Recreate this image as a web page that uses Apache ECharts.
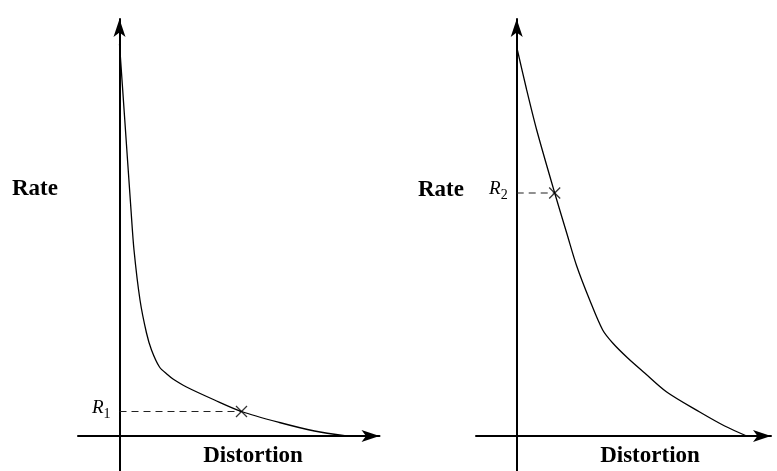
<!DOCTYPE html>
<html>
<head>
<meta charset="utf-8">
<script src="https://cdn.jsdelivr.net/npm/echarts@6/dist/echarts.min.js"></script>
<style>
  html, body { margin: 0; padding: 0; background: #fff; }
  #chart { width: 777px; height: 471px; }
</style>
</head>
<body>
<div id="chart"></div>
<script>
// Left panel: rate-distortion curve with a sharp knee
const leftDistortion = [0, 0.05, 0.115, 0.145, 0.205, 0.27, 0.32, 0.40, 0.485, 0.535, 0.67, 0.95, 1.22, 1.60, 1.95, 2.27];
const leftRate       = [3.92, 3.20, 2.26, 1.86, 1.36, 1.03, 0.86, 0.69, 0.61, 0.57, 0.49, 0.36, 0.245, 0.135, 0.05, 0];
// Operating point on the left curve
const leftPointD = 1.22;
const leftPointR = 0.245;

// Right panel: flatter rate-distortion curve
const rightDistortion = [0, 0.10, 0.20, 0.38, 0.50, 0.60, 0.73, 0.86, 0.96, 1.11, 1.28, 1.50, 1.83, 2.08, 2.30];
const rightRate       = [3.89, 3.46, 3.06, 2.43, 2.03, 1.70, 1.36, 1.06, 0.93, 0.78, 0.63, 0.44, 0.24, 0.10, 0];
// Operating point on the right curve
const rightPointD = 0.38;
const rightPointR = 2.43;

// Text
const yAxisTitle = 'Rate';
const xAxisTitle = 'Distortion';
const leftPointName = ['R', '1'];
const rightPointName = ['R', '2'];

const zip = (xs, ys) => xs.map((x, i) => [x, ys[i]]);

const serif = '"Liberation Serif", "Times New Roman", serif';

const arrowLine = {
  onZero: true,
  symbol: ['none', 'arrow'],
  symbolSize: [9, 18],
  lineStyle: { color: '#000', width: 2 }
};

function bareAxis(gridIndex, min, max) {
  return {
    type: 'value', gridIndex, min, max,
    axisLine: arrowLine,
    axisTick: { show: false },
    axisLabel: { show: false },
    splitLine: { show: false }
  };
}

const nameRich = {
  r: { fontFamily: serif, fontStyle: 'italic', fontSize: 19, color: '#000',
       lineHeight: 19, padding: [0, 0, 4, 0], verticalAlign: 'bottom' },
  s: { fontFamily: serif, fontSize: 14, color: '#000',
       lineHeight: 14, verticalAlign: 'bottom' }
};

function curveSeries(idx, data) {
  return {
    type: 'line', xAxisIndex: idx, yAxisIndex: idx, data,
    showSymbol: false, smooth: 0.3,
    lineStyle: { color: '#000', width: 1.3 },
    silent: true, z: 3
  };
}

function guideSeries(idx, d, r) {
  return {
    type: 'line', xAxisIndex: idx, yAxisIndex: idx,
    data: [[0, r], [d, r]],
    showSymbol: false,
    lineStyle: { color: '#222', width: 1.2, type: [7, 5] },
    silent: true, z: 2
  };
}

function crossSeries(idx, d, r) {
  return {
    type: 'scatter', xAxisIndex: idx, yAxisIndex: idx,
    data: [[d, r]],
    symbol: 'path://M0,0L10,10M10,0L0,10',
    symbolSize: 11,
    itemStyle: { color: 'transparent', borderColor: '#000', borderWidth: 1.3 },
    silent: true, z: 4
  };
}

function nameSeries(idx, r, parts) {
  return {
    type: 'scatter', xAxisIndex: idx, yAxisIndex: idx,
    data: [[0, r]],
    symbol: 'circle',
    symbolSize: 0,
    itemStyle: { color: '#000' },
    label: {
      show: true, position: 'left', distance: 9,
      color: '#000', opacity: 1,
      formatter: '{r|' + parts[0] + '}{s|' + parts[1] + '}',
      rich: nameRich
    },
    silent: true, z: 5
  };
}

function title(text, x, y, align) {
  return {
    type: 'text',
    style: {
      text, x, y,
      font: 'bold 23px ' + serif,
      fill: '#000',
      textAlign: align,
      textVerticalAlign: 'middle'
    }
  };
}

const chart = echarts.init(document.getElementById('chart'), null, { renderer: 'canvas' });

chart.setOption({
  animation: false,
  backgroundColor: '#fff',
  grid: [
    { left: 78, right: 397.5, top: 19, bottom: 0 },
    { left: 476, right: 6, top: 19, bottom: 0 }
  ],
  xAxis: [
    bareAxis(0, -0.415, 2.60),
    bareAxis(1, -0.407, 2.543)
  ],
  yAxis: [
    bareAxis(0, -0.35, 4.17),
    bareAxis(1, -0.35, 4.17)
  ],
  series: [
    curveSeries(0, zip(leftDistortion, leftRate)),
    guideSeries(0, leftPointD, leftPointR),
    crossSeries(0, leftPointD, leftPointR),
    nameSeries(0, leftPointR, leftPointName),
    curveSeries(1, zip(rightDistortion, rightRate)),
    guideSeries(1, rightPointD, rightPointR),
    crossSeries(1, rightPointD, rightPointR),
    nameSeries(1, rightPointR, rightPointName)
  ],
  graphic: [
    title(yAxisTitle, 12, 189, 'left'),
    title(yAxisTitle, 418, 190, 'left'),
    title(xAxisTitle, 253, 456, 'center'),
    title(xAxisTitle, 650, 456, 'center')
  ]
});
</script>
</body>
</html>
